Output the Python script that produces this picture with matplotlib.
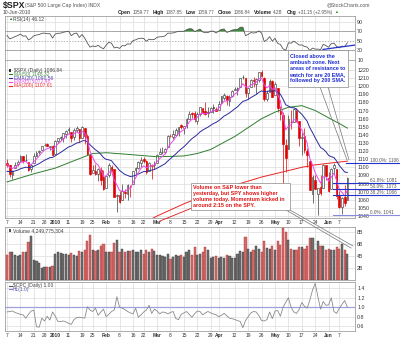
import numpy as np
import pandas as pd
import matplotlib
matplotlib.use("Agg")
import matplotlib.pyplot as plt
from matplotlib.lines import Line2D
from matplotlib.patches import Rectangle

plt.rcParams['font.family'] = ['Liberation Sans', 'DejaVu Sans']

# ---------------- data ----------------
opens = [1105.5,1103.0,1091.1,1098.7,1103.9,1107.8,1114.1,1108.6,1106.4,1097.9,1105.3,1114.5,1118.8,1121.1,1127.5,1128.6,1125.5,1126.6,
         1116.6,1132.7,1135.7,1136.3,1140.5,1146.0,1143.8,1137.3,1145.7,1147.7,1136.0,1148.0,1138.7,1115.5,1092.4,1095.8,1091.9,1096.9,1087.6,
         1073.9,1090.1,1100.7,1097.3,1064.1,1065.5,1060.1,1069.7,1067.1,1076.0,1079.1,1096.1,1099.0,1105.5,1110.0,1107.5,1095.9,1101.2,1103.1,
         1105.4,1117.0,1119.4,1119.1,1125.1,1138.4,1137.6,1140.2,1143.0,1151.7,1148.5,1150.8,1159.9,1166.1,1166.7,1157.2,1166.0,1172.7,1170.0,1167.6,1167.7,1173.8,1171.8,
         1171.2,1178.7,1186.0,1188.2,1181.8,1187.5,1194.9,1195.9,1198.7,1210.8,1210.2,1192.1,1199.0,1207.2,1202.5,1207.9,1217.1,1209.9,1184.6,1193.3,1206.8,
         1188.6,1197.5,1169.2,1164.4,1127.0,1122.3,1156.4,1155.4,1170.0,1157.2,1136.5,1138.8,1119.6,1107.3,1067.3,1084.8,1067.4,1075.5,1074.3,1102.6,
         1087.3,1073.0,1098.8,1098.4,1065.8,1050.8,1062.8,1059.77]
highs = [1110.7,1103.0,1097.0,1106.3,1108.5,1114.8,1114.1,1116.2,1106.4,1103.7,1117.7,1120.3,1121.6,1126.5,1130.4,1130.4,1126.5,1127.6,
         1133.9,1136.6,1139.2,1142.5,1145.4,1149.7,1143.8,1148.4,1150.4,1147.7,1150.5,1148.0,1141.6,1115.5,1102.6,1103.7,1099.5,1100.2,1096.5,
         1089.4,1104.7,1102.7,1097.3,1067.1,1071.2,1079.3,1073.7,1080.0,1077.8,1095.0,1100.0,1108.2,1112.4,1112.3,1108.6,1106.4,1103.5,1107.2,
         1116.1,1123.5,1125.6,1123.7,1139.4,1141.1,1145.4,1148.3,1150.3,1153.4,1151.0,1160.3,1169.2,1167.8,1169.2,1167.8,1174.7,1173.0,1180.7,1173.9,1174.9,1177.8,1174.6,
         1181.4,1187.7,1191.8,1189.6,1188.6,1194.7,1199.2,1199.0,1210.7,1213.9,1210.2,1197.9,1208.6,1211.0,1210.3,1217.3,1219.8,1211.4,1195.1,1209.4,1208.0,
         1205.1,1197.5,1176.0,1167.6,1135.1,1163.9,1170.5,1172.9,1173.6,1157.2,1141.9,1148.7,1124.3,1107.3,1090.2,1090.0,1074.8,1090.8,1103.5,1102.6,
         1094.8,1098.6,1105.7,1098.4,1071.4,1063.2,1077.7,1087.85]
lows = [1100.8,1088.6,1085.9,1098.7,1101.3,1107.8,1105.4,1107.9,1095.4,1093.9,1105.3,1114.5,1116.0,1121.1,1126.1,1126.2,1121.9,1114.8,
        1116.6,1129.7,1133.9,1131.3,1136.2,1142.0,1131.8,1133.2,1143.8,1131.4,1135.7,1129.3,1114.8,1090.2,1092.4,1089.9,1083.1,1078.5,1071.6,
        1073.9,1088.0,1094.0,1062.8,1044.5,1056.5,1060.1,1062.0,1060.1,1063.0,1079.1,1091.3,1097.5,1100.8,1105.4,1092.2,1095.9,1086.0,1097.6,
        1105.4,1116.5,1116.6,1116.1,1125.1,1136.8,1134.9,1140.1,1139.0,1147.0,1141.5,1148.4,1159.9,1161.2,1155.3,1152.9,1163.8,1166.0,1165.1,1161.5,1167.7,1166.5,1169.4,
        1170.7,1178.7,1182.8,1177.3,1175.1,1187.2,1194.7,1188.8,1198.7,1208.5,1186.8,1183.7,1199.0,1198.9,1190.2,1205.1,1211.1,1181.6,1181.8,1193.3,1186.3,
        1188.6,1168.1,1158.2,1065.8,1094.2,1122.3,1147.7,1155.4,1156.1,1126.1,1115.0,1117.2,1100.7,1071.5,1055.9,1072.7,1040.8,1065.6,1074.3,1084.8,
        1069.9,1072.7,1091.8,1060.5,1049.9,1042.2,1052.3,1059.77]
closes = [1103.25,1091.94,1095.95,1102.35,1106.41,1114.11,1107.93,1109.18,1096.08,1102.47,1114.05,1118.02,1120.59,1126.48,1127.78,1126.20,1126.42,1115.10,
          1132.99,1136.52,1137.14,1141.69,1144.98,1146.98,1136.22,1145.68,1148.46,1136.03,1150.23,1138.04,1116.48,1091.76,1096.78,1092.17,1097.50,1084.53,1073.87,
          1089.19,1103.32,1097.28,1063.11,1066.19,1056.74,1070.52,1068.13,1078.47,1075.51,1094.87,1099.51,1106.75,1109.17,1108.01,1094.60,1105.24,1102.94,1104.49,
          1115.71,1118.31,1118.79,1122.97,1138.70,1138.50,1140.45,1145.61,1150.24,1149.99,1150.51,1159.46,1166.21,1165.83,1159.90,1165.81,1174.17,1167.72,1165.73,1166.59,1173.22,1173.27,1169.43,
          1178.10,1187.44,1189.44,1182.45,1186.44,1194.37,1196.48,1197.30,1210.65,1211.67,1192.13,1197.52,1207.17,1205.94,1208.67,1217.28,1212.05,1183.71,1191.36,1206.78,1186.69,
          1202.26,1173.60,1165.87,1128.15,1110.88,1159.73,1155.79,1171.67,1157.44,1135.68,1136.94,1120.80,1115.05,1071.59,1087.69,1073.65,1074.03,1067.95,1103.06,1089.41,
          1070.71,1098.38,1102.83,1064.88,1050.47,1062.00,1055.69,1086.84]
warmup_closes = [1042.88,1045.41,1046.50,1066.63,1069.30,1093.08,1093.01,1098.51,1087.24,1093.48,1109.30,1110.32,
                 1109.80,1094.90,1091.38,1106.24,1105.65,1110.63,1091.49,1095.63,1108.86,1109.24,1099.92,1105.98]
volume_b = [4.1,4.6,4.6,4.2,4.0,4.2,4.6,4.7,6.3,7.3,3.4,3.1,2.8,2.0,2.1,2.1,2.2,2.3,
            4.3,4.6,4.5,4.4,4.3,4.1,4.5,4.2,4.0,4.8,4.6,5.0,6.4,7.4,4.9,4.8,5.0,5.6,6.0,
            4.6,4.7,4.6,6.1,6.7,4.7,5.2,4.6,4.8,4.8,5.0,4.7,4.6,5.0,4.3,4.9,4.6,5.2,4.8,
            4.1,4.2,4.0,3.9,4.3,3.5,3.9,4.1,4.0,4.1,3.8,4.6,4.9,4.2,5.5,4.2,4.4,4.7,5.4,5.0,3.7,3.9,4.0,
            3.7,3.8,3.7,4.2,4.0,3.6,3.6,4.3,4.8,4.6,7.2,5.2,4.7,4.9,5.7,5.1,4.6,6.4,5.3,5.2,5.6,
            4.9,6.4,5.8,8.6,8.0,6.6,5.2,4.9,5.0,5.5,5.5,5.1,5.6,6.9,7.0,5.0,6.4,5.7,5.7,4.9,
            5.2,5.0,5.0,5.5,5.2,6.0,4.9,4.25]
cpc = [0.90,0.91,0.92,0.89,0.87,0.85,0.84,0.77,0.85,0.92,0.94,0.59,0.58,0.77,0.71,0.81,0.73,0.90,
       0.81,0.70,0.70,0.71,0.69,0.66,0.64,0.74,0.78,0.79,0.78,0.77,1.01,0.94,0.91,0.98,0.83,0.90,0.96,
       0.80,0.85,0.91,0.94,1.22,1.00,0.98,0.95,0.91,0.88,0.86,0.98,0.79,0.84,0.90,0.94,1.04,0.87,0.96,
       0.92,0.86,0.90,0.89,0.86,0.89,0.91,0.76,0.74,0.85,0.88,0.91,0.85,0.79,0.86,0.92,0.91,0.84,0.88,0.91,0.88,0.86,0.84,
       0.80,0.83,0.87,0.82,0.77,0.76,0.74,0.72,0.70,0.57,0.72,0.80,0.88,0.91,0.90,0.82,0.72,0.71,0.74,0.90,0.76,
       0.92,0.93,0.81,1.00,1.10,1.20,1.00,0.90,0.87,0.95,1.10,1.02,0.98,1.15,1.36,1.50,1.22,0.96,1.12,1.04,
       1.05,1.20,0.91,0.87,0.98,1.06,1.14,1.00]
ma50_idx = [0, 10, 18, 28, 32, 37, 45, 56, 66, 71, 76, 85, 95, 100, 105, 110, 115, 120, 124, 127]
ma50_val = [1082, 1092, 1099, 1112, 1117, 1118, 1116, 1113, 1114, 1117, 1122, 1138, 1160, 1168, 1174, 1176, 1170, 1161, 1154, 1148.3]
ma200_idx = [40, 56, 66, 76, 85, 95, 100, 105, 110, 115, 120, 127]
ma200_val = [1012, 1040, 1055, 1068, 1078, 1088, 1092, 1096, 1100, 1103, 1105, 1107.6]
tick_idx = [0,5,10,14,18,23,28,32,37,42,47,51,56,61,66,71,76,79,85,90,95,100,105,110,115,120,124]
tick_labels = ['7','14','21','28','2010','11','19','25','Feb','8','16','22','Mar','8','15','22','29',
               'Apr','12','19','26','May','10','17','24','Jun','7']
bold_labels = {'2010','Feb','Mar','Apr','May','Jun'}
fib_levels = [1105.67, 1080.88, 1073.23, 1065.57, 1040.78]
fib_labels = ['100.0%: 1106', '61.8%: 1081', '50.0%: 1073', '38.2%: 1066', '0.0%: 1041']
header_parts = [('Open', True), ('1059.77', False), ('High', True), ('1087.85', False),
                ('Low', True), ('1059.77', False), ('Close', True), ('1086.84', False),
                ('Volume', True), ('4.2B', False), ('Chg', True), ('+31.15 (+2.95%)', False)]

# ---------------- derived ----------------
o = np.array(opens); h = np.array(highs); l = np.array(lows); c = np.array(closes)
n = len(c)
xs = np.arange(n)
full = pd.Series(warmup_closes + closes)
k = len(warmup_closes)
ema5 = full.ewm(span=5, adjust=False).mean().values[k:]
ema20 = full.ewm(span=20, adjust=False).mean().values[k:]
d = full.diff()
ag = d.clip(lower=0).ewm(alpha=1/14, adjust=False).mean()
al = (-d.clip(upper=0)).ewm(alpha=1/14, adjust=False).mean()
rsi = (100 - 100 / (1 + ag / al)).values[k:]
prev = np.r_[warmup_closes[-1], c[:-1]]
down = c < prev

W, H = 400, 341
fig = plt.figure(figsize=(W/100, H/100), dpi=100)
fig.patch.set_facecolor('white')
renderer = fig.canvas.get_renderer()

def rect(top, bot, left=5, right=355):
    return [left/W, 1-bot/H, (right-left)/W, (bot-top)/H]

def ptext(x, y, s, **kw):
    kw.setdefault('fontsize', 3.9)
    kw.setdefault('va', 'center')
    kw.setdefault('color', '#333333')
    return fig.text(x/W, 1-y/H, s, **kw)

def pline(xa, ya, color, lw=0.6):
    fig.add_artist(Line2D([p/W for p in xa], [1-p/H for p in ya], color=color, lw=lw))

XL = (-0.75, 129.85)
grid_c = '#dcdcdc'

def style(ax):
    ax.set_xlim(*XL)
    for s in ax.spines.values():
        s.set_color('#a0a0a0'); s.set_linewidth(0.6)
    ax.set_xticks(tick_idx)
    ax.tick_params(length=0, labelsize=3.8, colors='#333333', pad=1.5,
                   labelleft=False, labelright=True, labelbottom=False)
    for t in tick_idx:
        ax.axvline(t, color=grid_c, lw=0.5, zorder=0)

def date_labels(ax):
    ax.tick_params(axis='x', labelbottom=True, labelsize=3.5, pad=1.3)
    ax.set_xticklabels(tick_labels)
    for t in ax.get_xticklabels():
        if t.get_text() in bold_labels:
            t.set_fontweight('bold')

# ---------- RSI ----------
ax_r = fig.add_axes(rect(16, 60))
style(ax_r)
ax_r.set_ylim(10, 102)
ax_r.set_yticks([10, 30, 50, 70, 90])
for lv in [10, 90]:
    ax_r.axhline(lv, color=grid_c, lw=0.5, zorder=0)
ax_r.axhline(70, color='#999999', lw=0.6, zorder=1)
ax_r.axhline(30, color='#999999', lw=0.6, zorder=1)
ax_r.axhline(50, color='#999999', lw=0.5, ls=(0, (2, 2)), zorder=1)
ax_r.fill_between(xs, 70, rsi, where=rsi > 70, interpolate=True, color='#3a8f3a', lw=0, zorder=2)
ax_r.plot(xs, rsi, color='#555555', lw=0.6, zorder=3)
ax_r.plot([117.9, 129.8], [32.1, 41.2], color='#2233cc', lw=0.9, zorder=4)

# ---------- Price ----------
ax_p = fig.add_axes(rect(60, 218))
style(ax_p)
ax_p.set_ylim(1037.5, 1232.3)
ax_p.set_yticks(np.arange(1040, 1230, 10))
for lv in np.arange(1040, 1230, 10):
    ax_p.axhline(lv, color=grid_c, lw=0.5, zorder=0)
date_labels(ax_p)

for i in range(n):
    col = '#e00000' if down[i] else '#3c3c3c'
    ax_p.vlines(xs[i], l[i], h[i], color=col, lw=0.5, zorder=3)
    filled = c[i] < o[i]
    bh = max(abs(c[i] - o[i]), 0.6)
    ax_p.bar(xs[i], bh, bottom=min(o[i], c[i]), width=0.62,
             facecolor=col if filled else 'white', edgecolor=col, lw=0.45, zorder=4)

ax_p.plot(ma200_idx, ma200_val, color='#ee2222', lw=0.7, zorder=5)
ax_p.plot(ma50_idx, ma50_val, color='#2f7f2f', lw=0.7, zorder=5)
ax_p.plot(xs, ema20, color='#2a2a9e', lw=0.7, zorder=5)
ax_p.plot(xs, ema5, color='#ee44ee', lw=0.7, zorder=5)

# Fibonacci lines
for j, (lv, lab) in enumerate(zip(fib_levels, fib_labels)):
    x0 = 126.5 if j == 0 else 121.5
    colr = '#8a8ae0' if j == 4 else '#2233cc'
    ax_p.plot([x0, 147], [lv, lv], color=colr, lw=0.8, clip_on=False, zorder=6)
    ypx = 70 + (1220 - lv) * 0.811
    ptext(370, ypx - 2.4, lab, fontsize=3.4, color='#555555')

# legend of price panel
leg = [('$SPX (Daily) 1086.84', '#444444', None),
       ('MA(50) 1148.32', '#4f8f4f', '#2f7f2f'),
       ('EMA(20) 1090.56', '#4a4ab0', '#2a2a9e'),
       ('EMA(5) 1072.48', '#ee55ee', '#ee44ee'),
       ('MA(200) 1107.61', '#ee3333', '#ee2222')]
for j, (txt, tc, lc) in enumerate(leg):
    yy = 70.7 + 3.7 * j
    if lc is None:
        fig.add_artist(Rectangle((9/W, 1-(yy+1.3)/H), 1.6/W, 2.6/H, facecolor='#333333', edgecolor='none'))
    else:
        pline([8.5, 12], [yy, yy], lc, lw=0.8)
    ptext(13.5, yy, txt, fontsize=3.6, color=tc)

# ---------- Volume ----------
ax_v = fig.add_axes(rect(227, 280))
style(ax_v)
ax_v.set_ylim(0, 8.8)
ax_v.set_yticks([2, 4, 6, 8])
ax_v.set_yticklabels(['2B', '4B', '6B', '8B'])
for lv in [2, 4, 6, 8]:
    ax_v.axhline(lv, color=grid_c, lw=0.5, zorder=0)
vcol = ['#d46a6a' if dn else '#707070' for dn in down]
vedge = ['#b03a3a' if dn else '#3a3a3a' for dn in down]
ax_v.bar(xs, volume_b, width=0.8, color=vcol, edgecolor=vedge, lw=0.3, zorder=3)

# ---------- CPC ----------
ax_c = fig.add_axes(rect(282, 331))
style(ax_c)
ax_c.set_ylim(0.50, 1.53)
ax_c.set_yticks([0.6, 0.8, 1.0, 1.2, 1.4])
ax_c.set_yticklabels(['0.6', '0.8', '1.0', '1.2', '1.4'])
for lv in [0.6, 0.8, 1.2, 1.4]:
    ax_c.axhline(lv, color=grid_c, lw=0.5, zorder=0)
ax_c.axhline(1.0, color='#a0a0e0', lw=0.9, zorder=1)
ax_c.plot(xs, cpc, color='#8a8a8a', lw=0.6, zorder=3)
date_labels(ax_c)

# ---------- header & labels ----------
ptext(3, 5.5, '$SPX', fontsize=6.3, fontweight='bold', color='#222222')
ptext(25, 5.5, '(S&P 500 Large Cap Index) INDX', fontsize=3.6, color='#555555')
ptext(3, 12.3, '10-Jun-2010', fontsize=3.6, color='#444444')
ptext(327, 5, '@StockCharts.com', fontsize=3.6, color='#555555')

xcur = 118.0
for s, b in header_parts:
    t = ptext(xcur, 12.3, s, fontsize=3.6 if b else 3.3,
              fontweight='bold' if b else 'normal', color='#222222' if b else '#555555')
    bb = t.get_window_extent(renderer)
    xcur = bb.x1 + (1.4 if b else 3.8)
ptext(xcur - 1.8, 12.3, '\u25b2', fontsize=2.8, color='#2a8a2a')

ptext(8, 19.5, '\u25b2', fontsize=3.2, color='#3a8f3a')
ptext(13, 19.5, 'RSI(14) 46.12', fontsize=3.6, color='#444444')
fig.add_artist(Rectangle((8.5/W, 1-232/H), 2/W, 3.5/H, facecolor='#555555', edgecolor='none'))
ptext(13, 230.5, 'Volume 4,249,775,304', fontsize=3.6, color='#444444')
pline([8.5, 12], [285.5, 285.5], '#555555', lw=0.8)
ptext(13, 285.5, '$CPC (Daily) 1.00', fontsize=3.6, color='#444444')
pline([8.5, 12], [289.3, 289.3], '#8080d0', lw=0.8)
ptext(13, 289.3, 'HL(1.0)', fontsize=3.6, color='#5555aa')

# ---------- annotations ----------
fig.add_artist(Rectangle((287.5/W, 1-87/H), 60/W, 36.5/H, facecolor='white',
                         edgecolor='#888888', lw=0.5, zorder=8))
ptext(289.5, 68.8, 'Closed above the\nambush zone. Next\nareas of resistance to\nwatch for are 20 EMA,\nfollowed by 200 SMA.',
      fontsize=3.9, fontweight='bold', color='#1f2fcf', linespacing=1.25, zorder=9)
pline([320, 347], [87, 160], '#777777', lw=0.5)
pline([328, 349], [87, 160], '#777777', lw=0.5)

fig.add_artist(Rectangle((191/W, 1-210/H), 99/W, 27/H, facecolor='white',
                         edgecolor='#888888', lw=0.5, zorder=8))
ptext(193, 196.5, 'Volume on S&P lower than\nyesterday, but SPY shows higher\nvolume today. Momentum kicked in\naround 2:15 on the SPY.',
      fontsize=3.9, fontweight='bold', color='#e01515', linespacing=1.25, zorder=9)
pline([192, 160], [208, 221], '#e01515', lw=0.6)
pline([286, 351], [210, 248], '#777777', lw=0.5)
pline([290, 353], [210, 246], '#777777', lw=0.5)

fig.savefig('out.png', dpi=100, facecolor='white')
